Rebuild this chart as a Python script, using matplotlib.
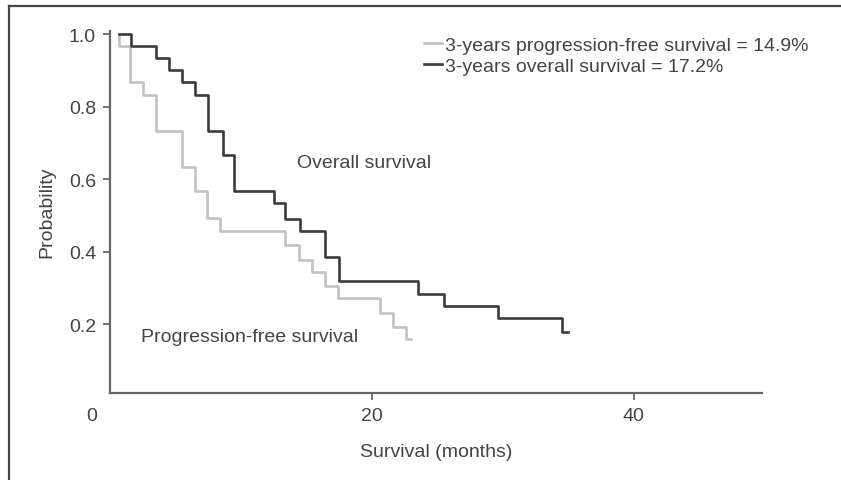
import matplotlib
matplotlib.use("Agg")
import matplotlib.pyplot as plt
import matplotlib.transforms as mtransforms
from matplotlib.lines import Line2D

plt.rcParams['font.family'] = ['Liberation Sans', 'DejaVu Sans']

# Kaplan-Meier steps (months, probability)
os_time = [0.65, 1.6, 3.5, 4.5, 5.5, 6.5, 7.5, 8.6, 9.5, 12.5, 13.4, 14.5, 16.4, 17.5, 23.5, 25.5, 29.6, 34.5, 35.0]
os_surv = [1.0, 0.967, 0.933, 0.9, 0.867, 0.833, 0.733, 0.667, 0.567, 0.533, 0.49, 0.457, 0.385, 0.319, 0.284, 0.25, 0.216, 0.179, 0.179]

pfs_time = [0.65, 0.7, 1.5, 2.5, 3.5, 5.5, 6.5, 7.4, 8.4, 13.4, 14.4, 15.4, 16.4, 17.4, 20.6, 21.6, 22.6, 23.0]
pfs_surv = [1.0, 0.967, 0.867, 0.833, 0.733, 0.633, 0.567, 0.494, 0.457, 0.417, 0.378, 0.343, 0.306, 0.271, 0.232, 0.193, 0.158, 0.158]

xticks = [0, 20, 40]
yticks = [0.2, 0.4, 0.6, 0.8, 1.0]
legend_labels = ['3-years progression-free survival = 14.9%', '3-years overall survival = 17.2%']

dark = '#3c3c3c'
light = '#c2c2c2'
txt = '#444444'
fs = 14

fig = plt.figure(figsize=(8.41, 4.81), dpi=100)
ax = fig.add_axes([110 / 841, 1 - 394 / 481, 652 / 841, 362.5 / 481])

ax.step(pfs_time, pfs_surv, where='post', color=light, lw=1.9, label=legend_labels[0])
ax.step(os_time, os_surv, where='post', color=dark, lw=1.9, label=legend_labels[1])

ax.set_xlim(0, 49.8)
ax.set_ylim(0.01, 1.01)
ax.set_xticks(xticks)
ax.set_yticks(yticks)
ax.set_yticklabels(['%.1f' % v for v in yticks])

for s in ['top', 'right']:
    ax.spines[s].set_visible(False)
for s in ['left', 'bottom']:
    ax.spines[s].set_color('#666666')
    ax.spines[s].set_linewidth(1.6)
ax.tick_params(colors='#666666', labelcolor=txt, labelsize=fs, width=1.3, length=5, pad=5)

# the "0" sits left of the corner
lab0 = ax.get_xticklabels()[0]
lab0.set_transform(lab0.get_transform() + mtransforms.ScaledTranslation(-18 / 100, 0, fig.dpi_scale_trans))
ax.get_xticklines()[0].set_visible(False)

ax.set_xlabel('Survival (months)', fontsize=fs, color=txt, labelpad=14)
ax.set_ylabel('Probability', fontsize=fs, color=txt, labelpad=10)

ax.text(14.3, 0.647, 'Overall survival', fontsize=fs, color=txt, va='center', ha='left')
ax.text(2.4, 0.167, 'Progression-free survival', fontsize=fs, color=txt, va='center', ha='left')

ax.legend(loc='upper left', bbox_to_anchor=(424 / 841, 1 - 37 / 481), bbox_transform=fig.transFigure,
          frameon=False, fontsize=fs, handlelength=0.9, handletextpad=0.2, labelspacing=0.2,
          borderaxespad=0, borderpad=0, labelcolor=txt)

# outer frame (top and left only)
fig.add_artist(Line2D([9 / 841, 1.0], [1 - 7 / 481, 1 - 7 / 481], transform=fig.transFigure, color='#444444', lw=1.6))
fig.add_artist(Line2D([9 / 841, 9 / 841], [0, 1 - 7 / 481], transform=fig.transFigure, color='#444444', lw=1.6))

fig.savefig('out.png', dpi=100)
